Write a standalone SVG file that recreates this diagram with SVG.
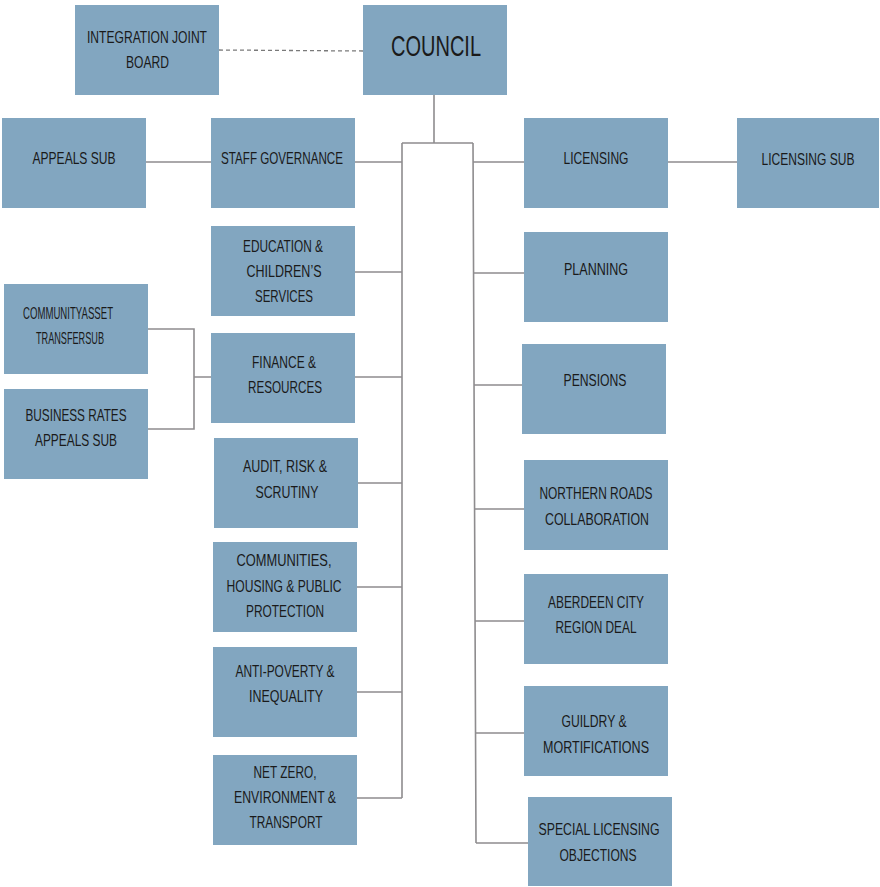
<svg xmlns="http://www.w3.org/2000/svg" width="880" height="887" viewBox="0 0 880 887">
<style>
.b{fill:#82A6C0}
text{font-family:"Liberation Sans",Arial,sans-serif;font-size:17px;fill:#1a1a1a;text-anchor:middle}
.c{fill:none;stroke:#8e8c8e;stroke-width:1.6}
.d{fill:none;stroke:#7a7a7a;stroke-width:1.3;stroke-dasharray:4 3}
</style>
<rect width="880" height="887" fill="#fff"/>
<g id="connectors">
<path class="d" d="M219,50 L363,51"/>
<path class="c" d="M434,95 V143 M402,143 H473 M402,143 V798 M473,143 L476,843"/>
<path class="c" d="M146,162 H211 M355,162 H402 M473,162 H524 M668,162 H737"/>
<path class="c" d="M355,272 H402 M355,377 H402 M358,483 H402 M357,587 H402 M357,692 H402 M357,798 H402"/>
<path class="c" d="M148,329 H194 V429 H148 M194,377 H211"/>
<path class="c" d="M474,273 H524 M474,385 H522 M475,509 H524 M475,621 H524 M476,733 H524 M476,843 H528"/>
</g>
<g id="ijb"><rect class="b" x="75" y="5" width="144" height="90"/><text x="147" y="43" textLength="120" lengthAdjust="spacingAndGlyphs">INTEGRATION JOINT</text><text x="147.5" y="68" textLength="43" lengthAdjust="spacingAndGlyphs">BOARD</text></g>
<g id="council"><rect class="b" x="363" y="5" width="144" height="90"/><text x="436" y="56" style="font-size:29px" textLength="90" lengthAdjust="spacingAndGlyphs">COUNCIL</text></g>
<g id="appeals"><rect class="b" x="2" y="118" width="144" height="90"/><text x="74" y="164" textLength="83" lengthAdjust="spacingAndGlyphs">APPEALS SUB</text></g>
<g id="staff"><rect class="b" x="211" y="118" width="144" height="90"/><text x="282" y="164" textLength="122" lengthAdjust="spacingAndGlyphs">STAFF GOVERNANCE</text></g>
<g id="licensing"><rect class="b" x="524" y="118" width="144" height="90"/><text x="596" y="164" textLength="65" lengthAdjust="spacingAndGlyphs">LICENSING</text></g>
<g id="licensingsub"><rect class="b" x="737" y="118" width="142" height="90"/><text x="808" y="165" textLength="93" lengthAdjust="spacingAndGlyphs">LICENSING SUB</text></g>
<g id="education"><rect class="b" x="211" y="226" width="144" height="90"/><text x="283" y="252" textLength="80" lengthAdjust="spacingAndGlyphs">EDUCATION &amp;</text><text x="284" y="277" textLength="75" lengthAdjust="spacingAndGlyphs">CHILDREN’S</text><text x="284" y="302" textLength="58" lengthAdjust="spacingAndGlyphs">SERVICES</text></g>
<g id="planning"><rect class="b" x="524" y="232" width="144" height="90"/><text x="596" y="275" textLength="64" lengthAdjust="spacingAndGlyphs">PLANNING</text></g>
<g id="cat"><rect class="b" x="4" y="284" width="144" height="90"/><text x="68" y="319" textLength="90" lengthAdjust="spacingAndGlyphs">COMMUNITYASSET</text><text x="70" y="344" textLength="68" lengthAdjust="spacingAndGlyphs">TRANSFERSUB</text></g>
<g id="finance"><rect class="b" x="211" y="333" width="144" height="90"/><text x="284" y="368" textLength="64" lengthAdjust="spacingAndGlyphs">FINANCE &amp;</text><text x="285" y="393" textLength="74" lengthAdjust="spacingAndGlyphs">RESOURCES</text></g>
<g id="pensions"><rect class="b" x="522" y="344" width="144" height="90"/><text x="595" y="386" textLength="63" lengthAdjust="spacingAndGlyphs">PENSIONS</text></g>
<g id="brates"><rect class="b" x="4" y="389" width="144" height="90"/><text x="76" y="421" textLength="101" lengthAdjust="spacingAndGlyphs">BUSINESS RATES</text><text x="76" y="446" textLength="82" lengthAdjust="spacingAndGlyphs">APPEALS SUB</text></g>
<g id="audit"><rect class="b" x="214" y="438" width="144" height="90"/><text x="285" y="472" textLength="84" lengthAdjust="spacingAndGlyphs">AUDIT, RISK &amp;</text><text x="287" y="498" textLength="63" lengthAdjust="spacingAndGlyphs">SCRUTINY</text></g>
<g id="northern"><rect class="b" x="524" y="460" width="144" height="90"/><text x="596" y="499" textLength="113" lengthAdjust="spacingAndGlyphs">NORTHERN ROADS</text><text x="597" y="525" textLength="104" lengthAdjust="spacingAndGlyphs">COLLABORATION</text></g>
<g id="communities"><rect class="b" x="213" y="542" width="144" height="90"/><text x="284" y="566" textLength="95" lengthAdjust="spacingAndGlyphs">COMMUNITIES,</text><text x="284" y="592" textLength="115" lengthAdjust="spacingAndGlyphs">HOUSING &amp; PUBLIC</text><text x="285" y="617" textLength="78" lengthAdjust="spacingAndGlyphs">PROTECTION</text></g>
<g id="aberdeen"><rect class="b" x="524" y="574" width="144" height="90"/><text x="596" y="608" textLength="96" lengthAdjust="spacingAndGlyphs">ABERDEEN CITY</text><text x="596" y="633" textLength="81" lengthAdjust="spacingAndGlyphs">REGION DEAL</text></g>
<g id="antipoverty"><rect class="b" x="213" y="647" width="144" height="90"/><text x="285" y="677" textLength="99" lengthAdjust="spacingAndGlyphs">ANTI-POVERTY &amp;</text><text x="286" y="702" textLength="74" lengthAdjust="spacingAndGlyphs">INEQUALITY</text></g>
<g id="guildry"><rect class="b" x="524" y="686" width="144" height="90"/><text x="594" y="727" textLength="65" lengthAdjust="spacingAndGlyphs">GUILDRY &amp;</text><text x="596" y="753" textLength="106" lengthAdjust="spacingAndGlyphs">MORTIFICATIONS</text></g>
<g id="netzero"><rect class="b" x="213" y="755" width="144" height="90"/><text x="285" y="778" textLength="63" lengthAdjust="spacingAndGlyphs">NET ZERO,</text><text x="285" y="803" textLength="102" lengthAdjust="spacingAndGlyphs">ENVIRONMENT &amp;</text><text x="286" y="828" textLength="73" lengthAdjust="spacingAndGlyphs">TRANSPORT</text></g>
<g id="special"><rect class="b" x="528" y="797" width="144" height="89"/><text x="599" y="835" textLength="121" lengthAdjust="spacingAndGlyphs">SPECIAL LICENSING</text><text x="598" y="861" textLength="77" lengthAdjust="spacingAndGlyphs">OBJECTIONS</text></g>
</svg>
